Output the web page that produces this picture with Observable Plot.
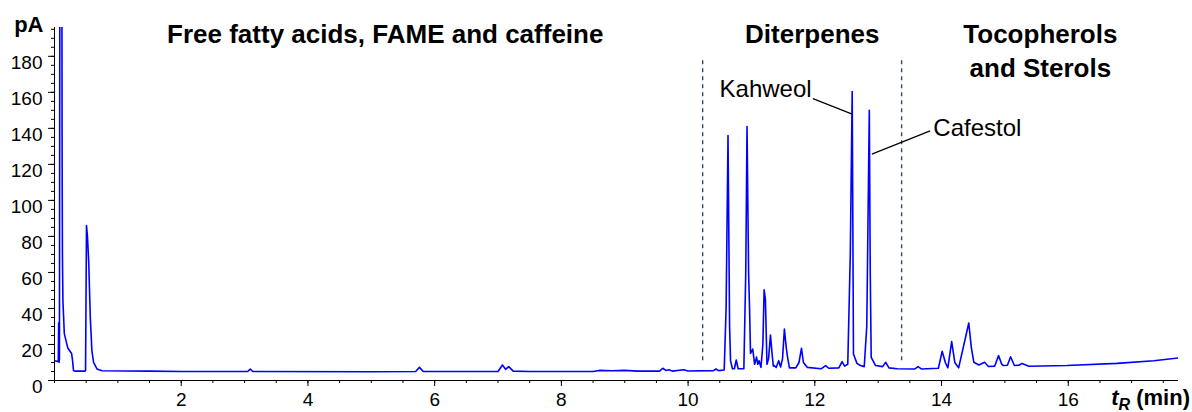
<!DOCTYPE html>
<html><head><meta charset="utf-8">
<script src="https://cdn.jsdelivr.net/npm/d3@7"></script>
<script src="https://cdn.jsdelivr.net/npm/@observablehq/plot@0.6"></script>
<style>body{margin:0;background:#fff} svg{display:block}</style>
</head><body><div id="chart"></div>
<script>
// Retention time (min) and detector signal (pA)
const tR = [
  0.000, 0.060, 0.066, 0.072, 0.078, 0.090, 0.100, 0.110, 0.120, 0.125, 0.133, 0.155, 0.210, 0.250, 0.270, 0.285, 0.300, 0.320,
  0.480, 0.490, 0.505, 0.520, 0.540, 0.565, 0.590, 0.617, 0.670, 0.750, 1.500, 2.000,
  3.050, 3.090, 3.130, 5.000, 5.700, 5.760, 5.820, 7.000, 7.070, 7.120, 7.170, 7.240, 7.500,
  8.500, 8.600, 8.800, 9.000, 9.200, 9.550, 9.600, 9.650, 9.700, 9.750, 9.930, 10.000,
  10.400, 10.440, 10.480, 10.570, 10.600, 10.630, 10.655, 10.670, 10.700, 10.730, 10.760, 10.790,
  10.880, 10.910, 10.930, 10.955, 10.970, 10.985, 11.020, 11.050, 11.080, 11.100, 11.120, 11.150,
  11.180, 11.200, 11.220, 11.245, 11.270, 11.300, 11.325, 11.345, 11.360, 11.390, 11.430, 11.460,
  11.490, 11.520, 11.550, 11.570, 11.600, 11.700, 11.750, 11.790, 11.820, 11.880, 12.100, 12.170,
  12.220, 12.380, 12.430, 12.470, 12.520, 12.560, 12.590, 12.610, 12.665, 12.720, 12.780, 12.820,
  12.860, 12.875, 12.890, 12.960, 13.070, 13.120, 13.170, 13.300, 13.580, 13.630, 13.680, 13.950,
  14.010, 14.060, 14.100, 14.160, 14.210, 14.270, 14.430, 14.470, 14.510, 14.590, 14.680, 14.740,
  14.840, 14.900, 14.950, 14.980, 15.040, 15.090, 15.150, 15.220, 15.270, 15.380, 15.980, 16.770,
  17.350, 17.740
];
const signal = [
  11.0, 10.5, 32.0, 10.0, 12.0, 400, 250, 400, 127, 70, 44, 26, 18, 16, 15, 11, 5.5, 5.2,
  5.2, 5.5, 86, 80, 66, 35, 16.6, 10, 6.4, 5.4, 5.2, 5.0,
  5.0, 6.3, 5.0, 4.9, 5.0, 7.3, 5.0, 5.0, 8.6, 6.2, 7.7, 5.2, 5.0,
  5.0, 5.6, 5.4, 5.6, 5.2, 5.2, 6.8, 5.6, 6.0, 5.2, 6.0, 5.3,
  5.5, 6.4, 5.5, 5.8, 40, 136, 30, 11, 6.5, 6.5, 11.4, 6.5,
  6.5, 60, 141, 60, 40, 15, 17.5, 9, 13, 9, 11, 7.3,
  20, 50.4, 45, 9, 12, 25.3, 15, 8, 8.3, 7.2, 11, 7.5,
  12, 28.6, 18, 12.9, 7, 7, 10, 17.9, 10, 7.3, 6.5, 8.3,
  6.8, 7, 10.5, 8, 9, 70, 160.4, 14.7, 9.5, 8.3, 7.7, 30,
  150, 60, 12.9, 8.3, 7.7, 10.1, 7, 6.5, 6.4, 7.7, 6.4, 6.8,
  16.2, 10, 7, 21.6, 10, 7, 31.9, 18.4, 10.1, 8.6, 10.1, 7.8,
  8, 13.8, 9, 8.3, 8.5, 13.2, 8.3, 8.5, 9.5, 7.9, 8.3, 9.5,
  11, 12.5
];

const xTicks = [2, 4, 6, 8, 10, 12, 14, 16];
const yTicks = [0, 20, 40, 60, 80, 100, 120, 140, 160, 180];
const xMinor = d3.range(0, 17.75, 0.5);
const yMinor = d3.range(0, 196, 5);

const regionTitles = ["Free fatty acids, FAME and caffeine", "Diterpenes", "Tocopherols\nand Sterols"];
const regionCenters = [5.22, 11.96, 15.56];
const regionBaselines = [187.4, 187.4, 168.6];
const regionBounds = [10.23, 13.37];

const peakNames = ["Kahweol", "Cafestol"];
const peakLabelX = [11.95, 13.87];
const peakLabelY = [157.5, 135.8];
const leaderX1 = [11.97, 13.82], leaderY1 = [156.5, 138.6];
const leaderX2 = [12.59, 12.90], leaderY2 = [147.9, 125.7];

const trace = tR.map((t, i) => ({t, v: signal[i]}));
const titles = regionTitles.map((s, i) => ({s, x: regionCenters[i], y: regionBaselines[i]}));
const peaks = peakNames.map((s, i) => ({s, x: peakLabelX[i], y: peakLabelY[i],
  x1: leaderX1[i], y1: leaderY1[i], x2: leaderX2[i], y2: leaderY2[i]}));

const chart = Plot.plot({
  width: 1192, height: 412,
  marginLeft: 54, marginRight: 14, marginTop: 27, marginBottom: 32,
  style: {fontFamily: "'Liberation Sans', Arial, sans-serif", fontSize: "18px", color: "#000", background: "#fff"},
  x: {domain: [0, 17.74]},
  y: {domain: [0, 196]},
  marks: [
    Plot.axisX({ticks: xMinor, tickSize: 3, text: null, stroke: "#000", label: null}),
    Plot.axisX({ticks: xTicks, tickSize: 6, text: null, stroke: "#000", label: null}),
    Plot.axisY({ticks: yMinor, tickSize: 3, text: null, stroke: "#000", label: null}),
    Plot.axisY({ticks: yTicks, tickSize: 6, text: null, stroke: "#000", label: null}),
    Plot.text(xTicks, {x: d => d, y: 0, text: d => String(d), dy: 25, lineAnchor: "bottom", textAnchor: "middle",
      fontSize: 19, fill: "#000", clip: false}),
    Plot.text(yTicks, {x: 0, y: d => d, text: d => String(d), dx: -12, dy: 6.5, lineAnchor: "middle", textAnchor: "end",
      fontSize: 19, fill: "#000", clip: false}),
    Plot.line(trace, {x: "t", y: "v", stroke: "#0000ff", strokeWidth: 1.6, clip: true}),
    Plot.ruleX(regionBounds, {y1: 11, y2: 178, stroke: "#2e4a6b", strokeWidth: 1.4, strokeDasharray: "4,4"}),
    Plot.ruleX([0], {stroke: "#000"}),
    Plot.ruleY([0], {stroke: "#000"}),
    Plot.text(titles, {x: "x", y: "y", text: "s", textAnchor: "middle", lineAnchor: "bottom", lineHeight: 1.31,
      fontSize: 26, fontWeight: "bold", fill: "#000"}),
    Plot.link(peaks, {x1: "x1", y1: "y1", x2: "x2", y2: "y2", stroke: "#000", strokeWidth: 1.2}),
    Plot.text(peaks.slice(0, 1), {x: "x", y: "y", text: "s", textAnchor: "end", lineAnchor: "bottom", fontSize: 24, fill: "#000"}),
    Plot.text(peaks.slice(1), {x: "x", y: "y", text: "s", textAnchor: "start", lineAnchor: "bottom", fontSize: 24, fill: "#000"}),
    Plot.text(["pA"], {x: 0, y: 196, text: d => d, dx: -11, dy: 4, textAnchor: "end", lineAnchor: "bottom",
      fontSize: 22, fontWeight: "bold", fill: "#000"})
  ]
});
document.getElementById("chart").appendChild(chart);

// axis title t_R (min) with subscript
const sx = chart.scale("x"), sy = chart.scale("y");
const lab = d3.select(chart).append("text")
  .attr("x", sx.apply(17.74) + 12).attr("y", sy.apply(0) + 25)
  .attr("text-anchor", "end").attr("font-weight", "bold").attr("font-size", 22).attr("fill", "#000");
lab.append("tspan").attr("font-style", "italic").text("t");
lab.append("tspan").attr("font-style", "italic").attr("font-size", 16).attr("dy", 5).text("R");
lab.append("tspan").attr("dy", -5).text(" (min)");
</script>
</body></html>
